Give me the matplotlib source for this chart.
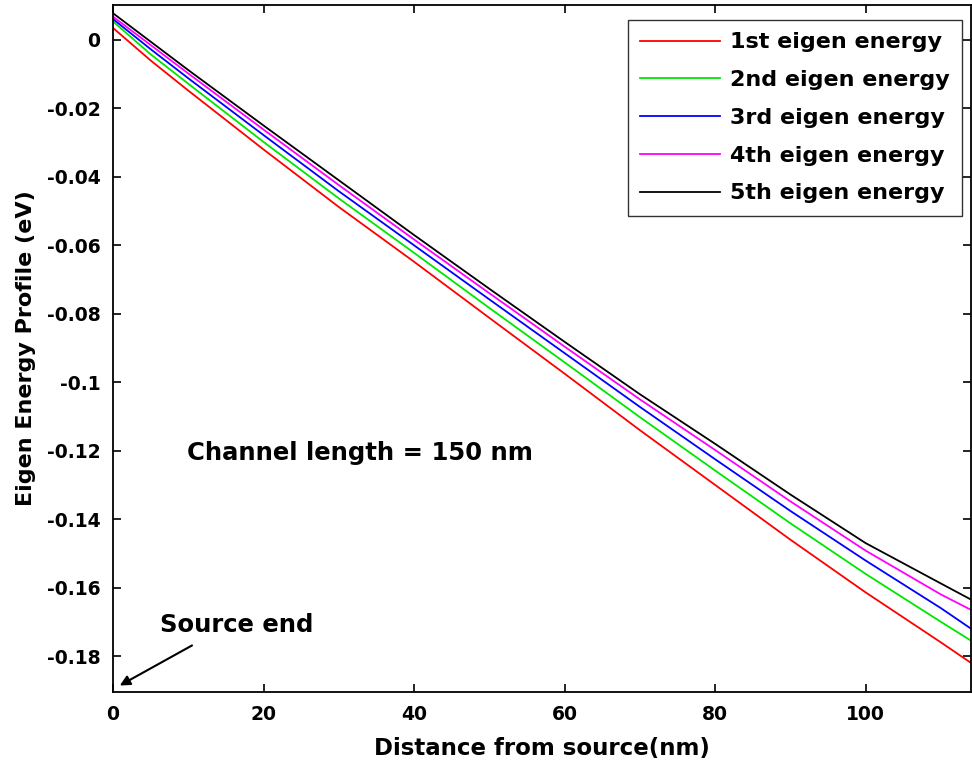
import matplotlib
matplotlib.use("Agg")
import matplotlib.pyplot as plt

plt.rcParams['font.family'] = ['DejaVu Sans']
plt.rcParams['font.weight'] = 'bold'

# Distance from source (nm)
distance = [0, 5, 10, 20, 30, 40, 50, 60, 70, 80, 90, 100, 110, 114]

# Eigen energy profiles (eV)
e1 = [0.0035, -0.0060, -0.0148, -0.0320, -0.0488, -0.0648, -0.0812,
      -0.0975, -0.1140, -0.1300, -0.1460, -0.1614, -0.1760, -0.1820]
e2 = [0.0054, -0.0042, -0.0128, -0.0298, -0.0463, -0.0622, -0.0783,
      -0.0942, -0.1102, -0.1258, -0.1412, -0.1560, -0.1700, -0.1755]
e3 = [0.0061, -0.0027, -0.0112, -0.0278, -0.0442, -0.0600, -0.0758,
      -0.0915, -0.1072, -0.1225, -0.1376, -0.1521, -0.1660, -0.1720]
e4 = [0.0068, -0.0015, -0.0098, -0.0262, -0.0424, -0.0583, -0.0740,
      -0.0896, -0.1050, -0.1198, -0.1348, -0.1492, -0.1620, -0.1665]
e5 = [0.0078, -0.0005, -0.0088, -0.0250, -0.0410, -0.0570, -0.0727,
      -0.0882, -0.1035, -0.1180, -0.1328, -0.1470, -0.1588, -0.1635]

series = [e1, e2, e3, e4, e5]
labels = ["1st eigen energy", "2nd eigen energy", "3rd eigen energy",
          "4th eigen energy", "5th eigen energy"]
colors = ["#ff0000", "#00e600", "#0000ff", "#ff00ff", "#000000"]

xticks = [0, 20, 40, 60, 80, 100]
yticks = [0, -0.02, -0.04, -0.06, -0.08, -0.1, -0.12, -0.14, -0.16, -0.18]
ytick_labels = ["0", "-0.02", "-0.04", "-0.06", "-0.08", "-0.1", "-0.12",
                "-0.14", "-0.16", "-0.18"]

fig = plt.figure(figsize=(9.72, 7.68), dpi=100)
ax = fig.add_axes([113 / 972, 76 / 768, (971 - 113) / 972, (692 - 5) / 768])

for y, lab, c in zip(series, labels, colors):
    ax.plot(distance, y, color=c, lw=1.3, label=lab)

ax.set_xlim(0, 114)
ax.set_ylim(-0.1905, 0.0102)
ax.set_xticks(xticks)
ax.set_xticklabels([str(t) for t in xticks])
ax.set_yticks(yticks)
ax.set_yticklabels(ytick_labels)
ax.tick_params(direction='in', length=6, width=1.2, top=True, right=True,
               labelsize=13.5, pad=9)
for s in ax.spines.values():
    s.set_linewidth(1.3)

ax.set_xlabel("Distance from source(nm)", fontsize=16.5, fontweight='bold',
              labelpad=10)
ax.set_ylabel("Eigen Energy Profile (eV)", fontsize=16, fontweight='bold',
              labelpad=8)

leg = ax.legend(loc='upper right', bbox_to_anchor=(0.9895, 0.978),
                fontsize=16, frameon=True, fancybox=False, handlelength=3.6,
                handletextpad=0.45, labelspacing=0.8, borderpad=0.55,
                borderaxespad=0.0)
leg.get_frame().set_edgecolor('black')
leg.get_frame().set_linewidth(1.0)

ax.text(9.8, -0.1208, "Channel length = 150 nm", fontsize=17.5,
        fontweight='bold', va='center', ha='left')
ax.text(6.2, -0.1708, "Source end", fontsize=17.5, fontweight='bold',
        va='center', ha='left')
ax.annotate("", xy=(0.9, -0.1886), xytext=(10.5, -0.1769),
            arrowprops=dict(arrowstyle='-|>', color='black', lw=1.5,
                            shrinkA=0, shrinkB=0, mutation_scale=15))

fig.savefig("out.png", dpi=100)
